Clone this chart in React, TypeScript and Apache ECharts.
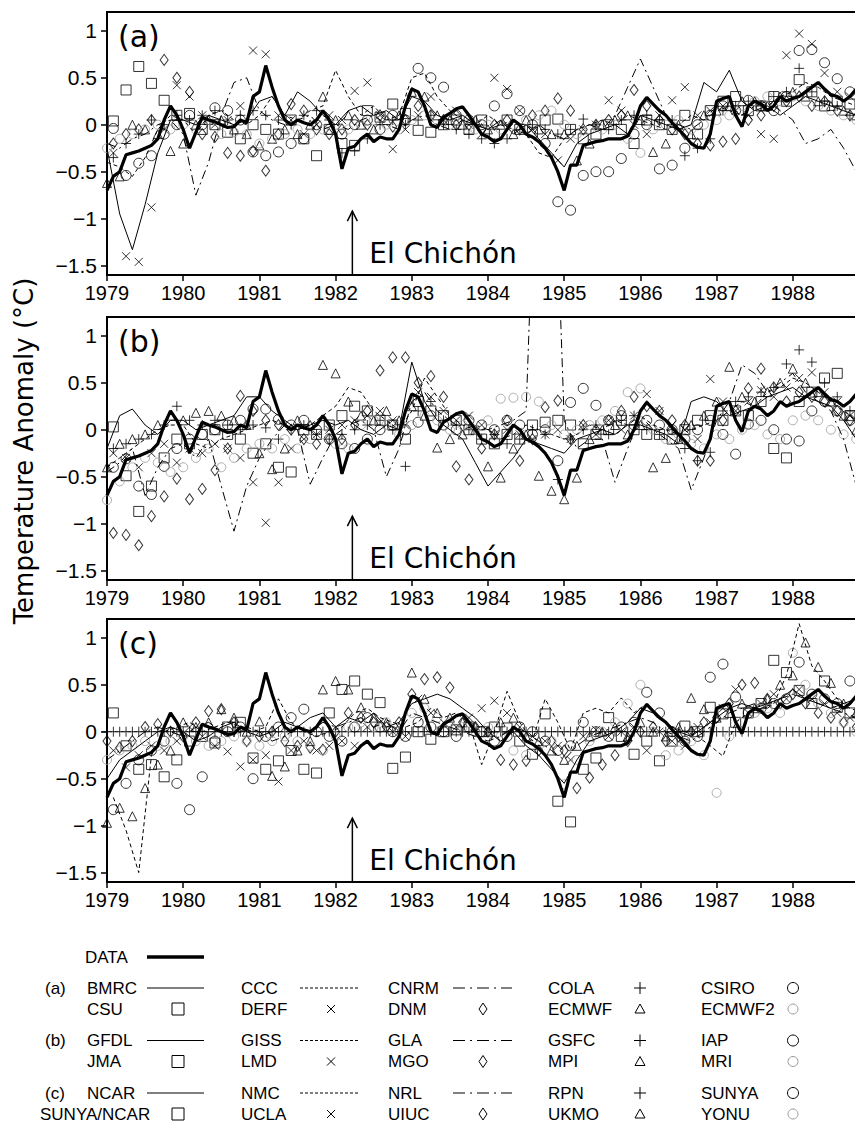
import React, { useEffect, useRef } from "react";
import * as echarts from "echarts";

// ---------------- DATA ----------------
const START_YEAR = 1979;
const yearTicks = [1979, 1980, 1981, 1982, 1983, 1984, 1985, 1986, 1987, 1988];
const yTicks = [-1.5, -1, -0.5, 0, 0.5, 1];
const panelLabels = ["(a)", "(b)", "(c)"];
const eruption = { year: 1982.22, tip: -0.92, labelY: -1.37, label: "El Chichón" };

// observed (DATA), monthly from Jan 1979
const obsData = [
  -0.70, -0.55, -0.50, -0.32, -0.30, -0.28, -0.25, -0.22, -0.15, 0.05, 0.20, 0.10,
  -0.05, -0.25, -0.08, 0.08, 0.05, 0.03, 0.00, -0.03, -0.02, 0.05, 0.02, 0.30,
  0.35, 0.63, 0.40, 0.20, 0.05, 0.00, 0.05, 0.02, 0.00, 0.05, 0.15, 0.05,
  -0.10, -0.47, -0.25, -0.23, -0.15, -0.10, -0.18, -0.13, -0.15, -0.15, -0.05, 0.20,
  0.38, 0.35, 0.20, 0.00, -0.03, 0.08, 0.12, 0.17, 0.19, 0.10, 0.00, -0.10,
  -0.13, -0.18, -0.15, -0.05, 0.05, 0.00, -0.10, -0.13, -0.18, -0.25, -0.35, -0.50,
  -0.70, -0.43, -0.43, -0.22, -0.20, -0.18, -0.17, -0.15, -0.15, -0.15, -0.12, 0.00,
  0.20, 0.29, 0.22, 0.15, 0.10, 0.02, -0.05, -0.12, -0.20, -0.24, -0.25, -0.10,
  0.25, 0.28, 0.30, 0.10, -0.02, 0.20, 0.25, 0.22, 0.15, 0.20, 0.30, 0.25,
  0.28, 0.30, 0.35, 0.40, 0.45, 0.38, 0.32, 0.30, 0.25, 0.30, 0.38, 0.42,
];

// ---- panel (a), bimonthly ----
const aBMRC = [
  -0.25, -0.95, -1.33, -0.85, -0.30, 0.05, 0.05, 0.00, 0.10, 0.05, 0.00, 0.05,
  0.25, 0.30, 0.10, 0.35, 0.25, 0.10, 0.00, 0.15, 0.20, 0.10, 0.15, 0.05,
  0.30, 0.25, 0.10, 0.05, 0.10, 0.00, -0.05, 0.05, -0.10, 0.00, -0.15, -0.30,
  -0.45, -0.20, -0.10, -0.05, 0.00, -0.10, 0.10, 0.05, 0.00, -0.05, 0.00, 0.45,
  0.35, 0.58, 0.25, 0.15, 0.20, 0.10, 0.20, 0.30, 0.25, 0.20, 0.15, 0.10,
];
const aCCC = [
  -0.40, -0.45, -0.55, -0.35, -0.05, 0.10, 0.05, -0.10, 0.10, 0.15, 0.05, 0.00,
  0.10, 0.30, 0.10, 0.05, 0.15, 0.20, 0.58, 0.30, 0.10, 0.20, 0.05, 0.10,
  0.50, 0.55, 0.30, 0.15, 0.05, 0.00, 0.10, 0.00, -0.05, -0.10, -0.30, -0.35,
  -0.15, -0.05, 0.00, 0.05, 0.00, 0.10, 0.05, 0.00, -0.05, 0.00, 0.10, 0.05,
  0.20, 0.15, 0.10, 0.25, 0.20, 0.30, 0.35, 0.45, 0.40, 0.30, 0.25, 0.20,
];
const aCNRM = [
  -0.20, -0.25, -0.15, -0.10, 0.00, 0.05, -0.10, -0.75, -0.40, 0.10, 0.45, 0.50,
  0.15, 0.05, 0.00, 0.05, 0.10, -0.05, 0.00, -0.05, 0.05, 0.10, 0.00, -0.05,
  0.05, 0.10, 0.00, -0.05, 0.05, 0.00, -0.05, 0.00, 0.05, -0.10, 0.00, -0.10,
  -0.15, -0.05, 0.00, -0.05, 0.10, 0.40, 0.70, 0.40, 0.10, 0.00, -0.05, 0.05,
  0.15, 0.20, 0.10, 0.20, 0.25, 0.15, 0.05, -0.20, -0.15, -0.05, -0.25, -0.50,
];
const aCOLA = [
  -0.35, -0.20, -0.10, 0.05, 0.00, 0.10, 0.05, 0.10, 0.15, 0.05, 0.10, 0.15,
  0.10, 0.05, 0.00, 0.10, 0.15, 0.05, -0.30, -0.28, -0.15, 0.00, 0.05, 0.00,
  0.05, 0.10, 0.00, -0.05, -0.10, -0.15, -0.20, -0.15, -0.05, 0.00, -0.05, -0.10,
  -0.05, 0.06, 0.00, -0.05, 0.05, 0.10, 0.10, 0.05, 0.05, -0.33, -0.25, -0.15,
  0.15, 0.20, 0.25, 0.20, 0.30, 0.35, 0.60, 0.35, 0.25, 0.20, 0.10, -0.10,
];
const aCSIRO = [
  -0.04, -0.54, -0.41, -0.33, -0.10, 0.00, 0.10, 0.00, 0.18, 0.15, 0.05, -0.29,
  -0.33, -0.29, -0.20, -0.15, 0.00, -0.05, -0.10, 0.00, 0.05, -0.05, 0.10, 0.05,
  0.60, 0.50, 0.40, 0.10, 0.05, 0.00, 0.20, 0.33, 0.15, 0.00, -0.20, -0.82,
  -0.91, -0.54, -0.50, -0.50, -0.36, -0.10, 0.00, -0.47, -0.43, -0.25, 0.00, 0.10,
  0.20, 0.15, 0.26, 0.20, 0.15, 0.30, 0.79, 0.80, 0.66, 0.49, 0.35, 0.26,
];
const aCSU = [
  0.04, 0.37, 0.62, 0.44, 0.26, 0.10, 0.12, -0.05, 0.00, -0.08, -0.15, 0.00,
  -0.05, -0.10, 0.05, -0.15, -0.33, -0.05, -0.20, -0.22, 0.15, 0.08, 0.22, 0.12,
  -0.06, -0.08, 0.00, 0.05, -0.05, 0.05, -0.10, 0.05, -0.05, -0.08, 0.05, 0.06,
  -0.05, -0.15, -0.10, 0.00, -0.05, -0.20, 0.05, 0.00, -0.05, 0.10, -0.10, 0.15,
  0.25, 0.30, 0.15, 0.20, 0.30, 0.25, 0.48, 0.35, 0.20, 0.25, 0.22, 0.18,
];
const aDERF = [
  -0.30, -1.40, -1.46, -0.88, -0.05, 0.42, 0.30, 0.10, 0.00, 0.05, 0.20, 0.79,
  0.75, 0.10, 0.05, -0.10, 0.00, 0.10, 0.05, 0.36, 0.45, 0.10, -0.26, -0.05,
  0.10, 0.30, 0.05, 0.15, 0.00, -0.10, 0.50, 0.38, 0.15, -0.05, -0.10, -0.38,
  -0.15, -0.05, 0.00, 0.26, 0.15, 0.00, -0.10, 0.10, 0.26, 0.40, 0.10, 0.15,
  0.20, 0.15, 0.10, -0.10, -0.15, 0.74, 0.97, 0.86, 0.55, 0.35, 0.30, 0.15,
];
const aDNM = [
  -0.20, -0.10, -0.05, 0.05, 0.69, 0.50, 0.35, -0.10, -0.13, -0.30, -0.33, -0.28,
  -0.49, -0.10, 0.22, 0.15, -0.05, -0.10, -0.05, 0.05, 0.00, 0.10, -0.02, 0.05,
  0.20, 0.10, 0.05, 0.00, 0.00, -0.05, 0.00, 0.05, -0.05, 0.10, 0.15, 0.28,
  0.15, -0.05, 0.00, 0.05, 0.10, 0.37, 0.20, 0.05, -0.05, -0.10, -0.20, -0.22,
  -0.18, -0.15, 0.05, 0.10, 0.20, 0.25, 0.30, 0.20, 0.25, 0.15, 0.10, 0.05,
];
const aECMWF = [
  -0.62, -0.55, 0.00, -0.05, -0.10, -0.28, -0.20, 0.00, 0.05, 0.05, -0.05, -0.10,
  -0.22, -0.15, -0.05, -0.10, 0.00, 0.30, 0.05, 0.10, 0.00, -0.05, 0.05, 0.10,
  0.35, 0.30, 0.10, 0.05, 0.00, 0.05, -0.05, 0.00, -0.10, 0.05, -0.05, -0.10,
  -0.10, -0.38, -0.20, 0.00, 0.05, 0.10, 0.05, -0.29, -0.20, 0.00, -0.10, 0.10,
  0.15, 0.20, 0.25, 0.25, 0.20, 0.30, 0.35, 0.30, 0.25, 0.20, 0.15, 0.10,
];
const aECMWF2 = [
  -0.25, -0.15, -0.10, -0.05, 0.00, -0.05, 0.00, -0.05, 0.05, -0.10, -0.08, -0.10,
  -0.20, -0.15, -0.10, -0.05, -0.10, -0.05, 0.00, -0.05, 0.00, 0.05, 0.00, -0.05,
  0.05, 0.10, 0.05, 0.00, 0.05, -0.05, 0.00, -0.05, 0.00, 0.05, 0.10, 0.15,
  0.00, -0.10, -0.05, -0.05, 0.00, -0.15, -0.30, -0.05, 0.00, 0.05, -0.05, 0.00,
  0.05, 0.10, 0.20, 0.25, 0.30, 0.25, 0.30, 0.25, 0.20, 0.15, 0.10, 0.05,
];

// ---- panel (b), bimonthly ----
const bGFDL = [
  -0.20, 0.15, 0.22, 0.05, -0.05, 0.10, 0.10, 0.00, 0.05, 0.10, 0.15, 0.35,
  0.35, 0.20, 0.10, 0.00, 0.05, 0.10, 0.05, 0.10, 0.00, -0.05, 0.05, 0.00,
  0.72, 0.30, 0.10, 0.00, -0.10, -0.35, -0.60, -0.45, -0.30, -0.10, -0.15, -0.20,
  -0.25, -0.10, -0.05, 0.00, -0.05, 0.05, 0.05, 0.00, -0.05, -0.15, 0.30, 0.35,
  0.30, 0.15, 0.20, 0.25, 0.35, 0.40, 0.45, 0.35, 0.30, 0.25, 0.10, -0.10,
];
const bGISS = [
  -0.40, -0.30, -0.20, -0.10, 0.00, 0.05, 0.05, -0.15, -0.20, -0.10, -0.05, 0.00,
  0.05, 0.10, 0.05, 0.00, 0.05, 0.15, 0.25, 0.45, 0.40, 0.20, 0.10, 0.00,
  0.20, 0.55, 0.35, 0.15, 0.05, 0.00, 0.00, -0.10, -0.05, 0.05, 0.00, -0.05,
  -0.10, -0.05, 0.05, 0.00, 0.10, 0.05, 0.15, 0.05, 0.00, -0.05, 0.00, 0.05,
  0.10, 0.20, 0.30, 0.25, 0.40, 0.45, 0.55, 0.50, 0.40, 0.30, 0.20, 0.10,
];
const bGLA = [
  -0.45, -0.35, -0.20, -0.70, -0.40, -0.20, -0.15, -0.30, -0.10, -0.60, -1.08, -0.60,
  -0.30, -0.10, 0.05, 0.00, -0.58, -0.30, -0.05, 0.05, 0.10, 0.00, -0.50, -0.20,
  0.30, 0.40, 0.20, 0.10, 0.00, 0.05, 0.00, 0.05, 0.10, 0.20, 4.00, 4.00,
  0.10, -0.20, -0.10, -0.10, -0.56, -0.20, 0.15, 0.00, -0.10, -0.20, -0.64, -0.30,
  0.10, 0.30, 0.69, 0.60, 0.40, 0.50, 0.60, 0.40, 0.30, 0.20, -0.10, -0.60,
];
const bGSFC = [
  -0.20, -0.15, -0.10, -0.05, 0.05, 0.25, 0.10, 0.05, 0.10, 0.05, 0.00, 0.05,
  0.02, -0.10, 0.00, 0.05, -0.05, -0.10, -0.05, 0.00, 0.05, 0.10, 0.00, -0.39,
  0.20, 0.30, 0.10, 0.05, 0.00, -0.10, -0.05, -0.15, -0.10, 0.00, -0.05, -0.53,
  -0.10, 0.00, 0.05, -0.05, 0.10, 0.15, 0.00, -0.05, 0.00, -0.20, -0.33, -0.24,
  0.20, 0.30, 0.35, 0.40, 0.45, 0.70, 0.85, 0.72, 0.50, 0.35, 0.20, -0.10,
];
const bIAP = [
  -0.40, -0.31, -0.60, -0.69, -0.39, -0.20, -0.10, -0.05, 0.00, 0.05, 0.10, 0.22,
  0.22, 0.11, 0.05, 0.10, 0.00, -0.10, -0.15, -0.20, -0.10, 0.00, 0.05, 0.00,
  0.08, 0.15, 0.05, 0.00, 0.10, 0.05, 0.00, 0.10, 0.05, -0.05, 0.00, -0.33,
  0.29, 0.44, 0.26, 0.10, 0.15, 0.05, 0.10, 0.05, 0.00, -0.10, 0.00, 0.10,
  -0.05, -0.26, 0.06, 0.10, 0.00, -0.10, -0.12, 0.20, 0.30, 0.20, 0.10, 0.00,
];
const bJMA = [
  0.03, -0.49, -0.87, -0.60, -0.30, -0.10, -0.15, -0.05, 0.00, -0.05, -0.10, -0.25,
  -0.15, -0.40, -0.45, 0.00, -0.05, 0.05, 0.15, 0.25, 0.20, 0.10, 0.05, -0.10,
  0.30, 0.20, 0.15, 0.10, 0.00, -0.10, -0.15, -0.05, -0.10, 0.05, 0.08, 0.10,
  0.05, -0.15, -0.05, 0.00, 0.10, 0.00, -0.05, -0.05, -0.10, 0.00, 0.10, 0.15,
  0.10, 0.20, 0.15, 0.30, -0.20, -0.30, 0.30, 0.40, 0.55, 0.60, 0.15, -0.10,
];
const bLMD = [
  -0.25, -0.30, -0.40, -0.25, -0.15, -0.35, -0.20, -0.25, -0.15, -0.20, -0.30, -0.56,
  -0.99, -0.56, -0.20, -0.10, -0.05, 0.00, 0.05, 0.10, 0.15, 0.20, 0.10, 0.05,
  0.40, 0.35, 0.20, 0.10, 0.15, 0.05, -0.05, 0.00, -0.05, -0.10, -0.05, 0.00,
  -0.10, 0.05, -0.05, 0.10, 0.00, 0.15, 0.38, 0.20, 0.05, 0.00, -0.10, 0.54,
  0.30, 0.20, 0.30, 0.42, 0.35, 0.45, 0.55, 0.61, 0.40, 0.30, 0.15, 0.05,
];
const bMGO = [
  -1.10, -1.12, -1.23, -0.92, -0.71, -0.52, -0.74, -0.63, -0.43, -0.20, 0.36, 0.20,
  0.10, 0.05, 0.00, -0.10, -0.15, -0.10, -0.10, 0.05, 0.20, 0.63, 0.77, 0.77,
  0.50, 0.57, 0.35, -0.39, -0.53, -0.20, -0.05, 0.10, -0.33, -0.10, 0.24, 0.31,
  -0.10, 0.05, 0.00, 0.10, 0.20, 0.35, 0.25, 0.20, 0.10, 0.05, -0.33, -0.33,
  0.10, 0.20, 0.44, 0.65, 0.45, 0.30, 0.40, 0.35, 0.30, 0.20, 0.10, 0.00,
];
const bMPI = [
  -0.40, -0.15, -0.10, -0.05, 0.05, 0.15, 0.10, 0.18, 0.20, 0.15, 0.10, 0.05,
  -0.25, -0.42, -0.20, 0.10, 0.05, 0.69, 0.60, 0.30, 0.15, 0.10, 0.20, 0.10,
  0.25, 0.15, -0.19, -0.10, -0.05, 0.00, -0.39, -0.51, -0.20, -0.05, -0.49, -0.65,
  -0.74, -0.51, -0.10, 0.00, 0.05, -0.05, 0.05, -0.40, -0.30, -0.10, 0.05, 0.15,
  0.30, 0.67, 0.35, 0.30, 0.40, 0.50, 0.65, 0.50, 0.40, 0.30, 0.15, 0.00,
];
const bMRI = [
  -0.75, -0.55, -0.40, -0.30, -0.35, -0.45, -0.40, -0.30, -0.20, -0.40, -0.30, -0.20,
  -0.15, -0.20, -0.10, -0.20, -0.10, -0.05, -0.15, -0.20, 0.05, 0.10, 0.05, -0.05,
  0.05, 0.15, 0.10, 0.00, 0.05, 0.00, 0.10, 0.33, 0.34, 0.35, 0.30, 0.05,
  -0.05, 0.00, 0.05, 0.10, 0.20, 0.40, 0.44, 0.00, -0.10, -0.05, -0.15, -0.20,
  -0.05, -0.10, 0.00, 0.05, -0.05, -0.10, 0.10, 0.15, 0.10, 0.00, -0.05, -0.10,
];

// ---- panel (c), bimonthly (RPN monthly) ----
const cNCAR = [
  -0.50, -0.30, -0.20, -0.10, 0.00, 0.05, 0.00, -0.10, -0.05, 0.05, 0.10, 0.00,
  -0.05, 0.00, 0.10, 0.05, 0.15, 0.20, 0.05, 0.15, 0.10, 0.20, 0.05, 0.10,
  0.30, 0.35, 0.40, 0.35, 0.25, 0.15, 0.00, -0.10, 0.00, -0.15, -0.25, -0.40,
  -0.55, -0.30, -0.10, -0.05, 0.00, 0.10, 0.25, 0.20, 0.10, 0.00, -0.05, 0.05,
  0.15, 0.25, 0.30, 0.25, 0.30, 0.35, 0.45, 0.35, 0.30, 0.25, 0.30, 0.35,
];
const cNMC = [
  -0.70, -1.05, -1.50, -0.25, 0.00, 0.05, 0.10, 0.00, 0.05, 0.10, 0.05, 0.00,
  0.05, 0.35, 0.10, 0.00, -0.05, 0.00, 0.05, 0.20, 0.25, 0.15, 0.10, 0.05,
  0.10, 0.25, 0.15, 0.20, 0.10, -0.35, 0.00, 0.43, 0.10, -0.10, 0.35, 0.10,
  -0.20, 0.20, 0.25, 0.20, 0.36, 0.20, 0.30, 0.15, 0.05, 0.00, -0.05, -0.15,
  -0.26, 0.10, 0.20, 0.25, 0.30, 0.60, 1.15, 0.70, 0.54, 0.35, 0.25, 0.20,
];
const cNRL = [
  -0.30, -0.20, -0.10, 0.00, 0.05, 0.00, -0.05, 0.05, 0.10, 0.00, -0.05, 0.05,
  0.00, -0.10, -0.05, 0.05, 0.00, 0.10, 0.05, 0.10, 0.15, 0.05, 0.10, 0.00,
  0.20, 0.15, 0.10, 0.05, 0.00, -0.05, -0.10, -0.05, 0.05, 0.00, -0.10, -0.20,
  -0.30, -0.15, -0.05, 0.00, 0.05, 0.10, 0.15, 0.10, 0.00, -0.05, -0.10, 0.00,
  0.10, 0.20, 0.25, 0.30, 0.25, 0.35, 0.40, 0.35, 0.30, 0.25, 0.20, 0.15,
];
const cRPN = [
  0, 0, 0, 0, 0, 0, 0, 0, 0, 0, 0, 0, 0, 0, 0, 0, 0, 0, 0, 0, 0, 0, 0, 0,
  0, 0, 0, 0, 0, 0, 0, 0, 0, 0, 0, 0, 0, 0, 0, 0, 0, 0, 0, 0, 0, 0, 0, 0,
  0, 0, 0, 0, 0, 0, 0, 0, 0, 0, 0, 0, 0, 0, 0, 0, 0, 0, 0, 0, 0, 0, 0, 0,
  0, 0, 0, 0, 0, 0, 0, 0, 0, 0, 0, 0, 0, 0, 0, 0, 0, 0, 0, 0, 0, 0, 0, 0,
  0, 0, 0, 0, 0, 0, 0, 0, 0, 0, 0, 0, 0, 0, 0, 0, 0, 0, 0, 0, 0, 0, 0, 0,
];
const cSUNYA = [
  -0.83, -0.55, -0.30, -0.20, -0.10, -0.55, -0.83, -0.48, -0.10, 0.00, 0.05, -0.50,
  -0.05, 0.05, 0.15, 0.24, 0.00, -0.05, -0.10, 0.05, 0.15, 0.05, 0.00, -0.05,
  0.10, 0.05, 0.00, -0.05, 0.05, 0.00, -0.10, -0.05, 0.05, 0.00, -0.10, -0.20,
  -0.15, 0.10, 0.00, -0.05, 0.05, 0.10, 0.42, 0.20, 0.00, -0.10, -0.05, 0.58,
  0.72, 0.37, 0.20, 0.25, 0.30, 0.35, 0.74, 0.40, 0.35, 0.30, 0.54, 0.40,
];
const cSUNYANCAR = [
  0.20, -0.15, -0.40, -0.35, -0.48, -0.30, -0.10, -0.05, -0.12, 0.05, 0.10, -0.28,
  -0.40, -0.31, -0.20, -0.40, -0.44, 0.20, 0.45, 0.54, 0.40, 0.31, -0.39, -0.27,
  0.00, -0.08, 0.00, 0.02, 0.05, 0.00, 0.05, 0.04, -0.10, -0.24, 0.19, -0.74,
  -0.96, -0.40, -0.28, 0.15, -0.05, -0.24, -0.10, -0.31, -0.10, 0.06, 0.00, 0.26,
  0.19, 0.10, 0.20, 0.30, 0.76, 0.63, 0.44, 0.30, 0.54, 0.26, 0.20, 0.30,
];
const cUCLA = [
  -0.20, -0.38, -0.25, -0.15, -0.20, -0.10, 0.05, -0.05, -0.15, -0.21, -0.37, -0.30,
  -0.25, -0.53, -0.20, -0.10, -0.20, -0.15, -0.10, -0.15, 0.05, 0.10, 0.00, -0.05,
  0.35, 0.20, 0.10, 0.05, 0.15, 0.25, 0.33, 0.20, 0.05, -0.05, -0.10, -0.15,
  -0.30, -0.05, 0.02, -0.05, 0.00, 0.05, -0.20, 0.00, -0.10, -0.15, 0.05, 0.10,
  0.25, 0.45, 0.20, 0.30, 0.40, 0.35, 0.45, 0.35, 0.30, 0.20, 0.15, 0.05,
];
const cUIUC = [
  -0.10, -0.17, -0.10, 0.05, 0.08, 0.00, -0.05, 0.10, 0.22, 0.24, 0.10, -0.10,
  -0.05, 0.00, -0.10, -0.15, -0.17, -0.19, 0.00, 0.20, 0.15, 0.10, 0.05, 0.10,
  0.40, 0.56, 0.58, 0.47, 0.10, 0.05, 0.00, -0.30, -0.35, -0.31, -0.20, -0.10,
  -0.20, -0.60, -0.49, -0.35, -0.25, -0.10, 0.00, 0.05, -0.10, -0.05, 0.00, 0.10,
  0.15, 0.30, 0.50, 0.52, 0.35, 0.30, 0.40, 0.30, 0.20, 0.15, 0.10, 0.05,
];
const cUKMO = [
  -0.97, -0.81, -0.90, -0.60, -0.35, -0.20, 0.10, 0.05, 0.10, 0.24, 0.15, 0.00,
  0.11, -0.47, -0.37, -0.20, -0.10, 0.45, 0.54, 0.45, 0.26, 0.15, 0.10, 0.05,
  0.63, 0.35, 0.20, 0.15, 0.10, 0.05, 0.00, 0.10, 0.15, -0.05, -0.10, -0.20,
  -0.30, -0.15, -0.05, 0.00, 0.05, -0.05, 0.10, 0.00, -0.05, 0.05, 0.36, 0.24,
  0.15, 0.20, 0.30, 0.25, 0.35, 0.50, 0.60, 0.95, 0.69, 0.52, 0.30, 0.20,
];
const cYONU = [
  -0.30, -0.20, -0.15, -0.10, -0.15, -0.10, -0.05, -0.10, -0.15, -0.10, -0.05, -0.10,
  -0.15, -0.10, -0.05, -0.10, -0.15, -0.20, -0.05, 0.05, 0.10, 0.05, 0.10, 0.00,
  0.20, 0.25, 0.15, 0.10, 0.05, 0.00, 0.05, -0.05, -0.20, -0.25, -0.15, -0.10,
  -0.56, -0.30, -0.10, 0.00, 0.10, 0.30, 0.50, 0.00, -0.25, -0.20, -0.10, -0.25,
  -0.65, -0.05, 0.10, 0.20, 0.25, 0.20, 0.84, 0.50, 0.30, 0.20, 0.10, 0.00,
];

// ---------------- SPECS ----------------
type Kind = "solid" | "dashed" | "dashdot" | "plus" | "circle" | "square" | "cross" | "diamond" | "triangle" | "grey";
interface Spec { name: string; kind: Kind; values: number[]; step: number; offset: number }

// legend order: row 1 = first five, row 2 = last five
const panels: Spec[][] = [
  [
    { name: "BMRC", kind: "solid", values: aBMRC, step: 2, offset: 0 },
    { name: "CCC", kind: "dashed", values: aCCC, step: 2, offset: 0 },
    { name: "CNRM", kind: "dashdot", values: aCNRM, step: 2, offset: 0 },
    { name: "COLA", kind: "plus", values: aCOLA, step: 2, offset: 1 },
    { name: "CSIRO", kind: "circle", values: aCSIRO, step: 2, offset: 1 },
    { name: "CSU", kind: "square", values: aCSU, step: 2, offset: 1 },
    { name: "DERF", kind: "cross", values: aDERF, step: 2, offset: 1 },
    { name: "DNM", kind: "diamond", values: aDNM, step: 2, offset: 1 },
    { name: "ECMWF", kind: "triangle", values: aECMWF, step: 2, offset: 0 },
    { name: "ECMWF2", kind: "grey", values: aECMWF2, step: 2, offset: 0 },
  ],
  [
    { name: "GFDL", kind: "solid", values: bGFDL, step: 2, offset: 0 },
    { name: "GISS", kind: "dashed", values: bGISS, step: 2, offset: 0 },
    { name: "GLA", kind: "dashdot", values: bGLA, step: 2, offset: 0 },
    { name: "GSFC", kind: "plus", values: bGSFC, step: 2, offset: 1 },
    { name: "IAP", kind: "circle", values: bIAP, step: 2, offset: 1 },
    { name: "JMA", kind: "square", values: bJMA, step: 2, offset: 1 },
    { name: "LMD", kind: "cross", values: bLMD, step: 2, offset: 1 },
    { name: "MGO", kind: "diamond", values: bMGO, step: 2, offset: 1 },
    { name: "MPI", kind: "triangle", values: bMPI, step: 2, offset: 0 },
    { name: "MRI", kind: "grey", values: bMRI, step: 2, offset: 0 },
  ],
  [
    { name: "NCAR", kind: "solid", values: cNCAR, step: 2, offset: 0 },
    { name: "NMC", kind: "dashed", values: cNMC, step: 2, offset: 1 },
    { name: "NRL", kind: "dashdot", values: cNRL, step: 2, offset: 0 },
    { name: "RPN", kind: "plus", values: cRPN, step: 1, offset: 0 },
    { name: "SUNYA", kind: "circle", values: cSUNYA, step: 2, offset: 1 },
    { name: "SUNYA/NCAR", kind: "square", values: cSUNYANCAR, step: 2, offset: 1 },
    { name: "UCLA", kind: "cross", values: cUCLA, step: 2, offset: 1 },
    { name: "UIUC", kind: "diamond", values: cUIUC, step: 2, offset: 0 },
    { name: "UKMO", kind: "triangle", values: cUKMO, step: 2, offset: 0 },
    { name: "YONU", kind: "grey", values: cYONU, step: 2, offset: 0 },
  ],
];

// ---------------- STYLE ----------------
const SANS = "'Liberation Sans', Arial, Helvetica, sans-serif";
const DEJAVU = "'DejaVu Sans', 'Liberation Sans', sans-serif";
const GREY = "#9a9a9a";
const DASH: Record<string, any> = { solid: "solid", dashed: [4, 3], dashdot: [9, 4, 2, 4] };
const LEGEND_DASH: Record<string, any> = { dashed: [3, 2], dashdot: [12, 5, 2, 5] };
const SYMBOL: Record<string, { symbol: string; size: any }> = {
  plus: { symbol: "path://M5,0L5,10M0,5L10,5", size: 10 },
  circle: { symbol: "circle", size: 10 },
  square: { symbol: "rect", size: 10 },
  cross: { symbol: "path://M0,0L10,10M10,0L0,10", size: 8 },
  diamond: { symbol: "diamond", size: [8, 11] },
  triangle: { symbol: "triangle", size: 9 },
  grey: { symbol: "circle", size: 9 },
};

const GRID_TOPS = [12, 317, 619];
const GRID_LEFT = 107;
const GRID_W = 762;
const GRID_H = 263;

const timeOf = (monthIndex: number) => START_YEAR + monthIndex / 12;
const pairs = (s: Spec) => s.values.map((v, i) => [timeOf(s.offset + s.step * i), v]);
const minus = (v: number) => (v < 0 ? "\u2212" + String(Math.abs(v)) : String(v));

function legendMarker(kind: Kind, cx: number, cy: number): any[] {
  const st = { stroke: "#000", lineWidth: 1, fill: "none" };
  switch (kind) {
    case "plus":
      return [
        { type: "line", shape: { x1: cx - 6, y1: cy, x2: cx + 6, y2: cy }, style: st },
        { type: "line", shape: { x1: cx, y1: cy - 6, x2: cx, y2: cy + 6 }, style: st },
      ];
    case "cross":
      return [
        { type: "line", shape: { x1: cx - 4, y1: cy - 4, x2: cx + 4, y2: cy + 4 }, style: st },
        { type: "line", shape: { x1: cx - 4, y1: cy + 4, x2: cx + 4, y2: cy - 4 }, style: st },
      ];
    case "circle":
      return [{ type: "circle", shape: { cx, cy, r: 5.5 }, style: st }];
    case "grey":
      return [{ type: "circle", shape: { cx, cy, r: 5 }, style: { ...st, stroke: GREY } }];
    case "square":
      return [{ type: "rect", shape: { x: cx - 6, y: cy - 6, width: 12, height: 12 }, style: st }];
    case "diamond":
      return [{ type: "polygon", shape: { points: [[cx, cy - 6], [cx + 4, cy], [cx, cy + 6], [cx - 4, cy]] }, style: st }];
    case "triangle":
      return [{ type: "polygon", shape: { points: [[cx, cy - 5], [cx + 5, cy + 4], [cx - 5, cy + 4]] }, style: st }];
    default:
      return [];
  }
}

export default function App() {
  const ref = useRef<HTMLDivElement>(null);

  useEffect(() => {
    if (!ref.current) return;
    const chart = echarts.init(ref.current, undefined, { renderer: "svg" });

    const grid = GRID_TOPS.map((top) => ({
      left: GRID_LEFT, top, width: GRID_W, height: GRID_H,
      show: true, borderColor: "#000", borderWidth: 2, backgroundColor: "transparent",
    }));
    const xAxis = GRID_TOPS.map((_, k) => ({
      type: "value", gridIndex: k, min: 1979, max: 1989, interval: 1,
      axisLine: { show: true, onZero: false, lineStyle: { color: "#000", width: 2 } },
      axisTick: { show: true, inside: false, length: 6, customValues: yearTicks, lineStyle: { color: "#000", width: 1.5 } },
      axisLabel: {
        color: "#000", fontSize: 20, fontFamily: SANS, margin: 8,
        customValues: yearTicks,
        formatter: (v: number) => String(Math.round(v)),
      },
      splitLine: { show: false },
    }));
    const yAxis = GRID_TOPS.map((_, k) => ({
      type: "value", gridIndex: k, min: -1.6, max: 1.2,
      axisLine: { show: true, onZero: false, lineStyle: { color: "#000", width: 2 } },
      axisTick: { show: true, inside: false, length: 6, customValues: yTicks, lineStyle: { color: "#000", width: 1.5 } },
      axisLabel: { color: "#000", fontSize: 21, fontFamily: SANS, margin: 10, customValues: yTicks, formatter: minus },
      splitLine: { show: false },
    }));

    const series: any[] = [];
    panels.forEach((specs, k) => {
      specs.forEach((s) => {
        if (s.kind === "solid" || s.kind === "dashed" || s.kind === "dashdot") {
          series.push({
            type: "line", name: s.name, xAxisIndex: k, yAxisIndex: k, data: pairs(s),
            symbol: "none", showSymbol: false, silent: true, clip: true, z: 3,
            lineStyle: { color: "#000", width: 1, type: DASH[s.kind] },
          });
        } else {
          const sym = SYMBOL[s.kind];
          series.push({
            type: "scatter", name: s.name, xAxisIndex: k, yAxisIndex: k, data: pairs(s),
            symbol: sym.symbol, symbolSize: sym.size, silent: true, clip: true, z: 2,
            itemStyle: { color: "rgba(0,0,0,0)", borderColor: s.kind === "grey" ? GREY : "#000", borderWidth: 1 },
          });
        }
      });
      series.push({
        type: "line", name: "DATA", xAxisIndex: k, yAxisIndex: k,
        data: obsData.map((v, i) => [timeOf(i), v]),
        symbol: "none", showSymbol: false, silent: true, clip: true, z: 5,
        lineStyle: { color: "#000", width: 3.2 },
      });
    });

    chart.setOption({
      animation: false,
      backgroundColor: "#fff",
      textStyle: { fontFamily: SANS },
      grid, xAxis, yAxis, series,
    });

    // ----- graphics (annotations + legend) -----
    const els: any[] = [];
    const txt = (x: number, y: number, text: string, size: number, family: string, extra: any = {}) => ({
      type: "text", x, y, z: 20, ...extra,
      style: { text, fontSize: size, fontFamily: family, fill: "#000", verticalAlign: "middle", textVerticalAlign: "middle", align: extra.align || "left", textAlign: extra.align || "left" },
    });

    els.push(txt(24, 451, "Temperature Anomaly (°C)", 26, DEJAVU, { rotation: Math.PI / 2, align: "center" }));

    panelLabels.forEach((lab, k) => {
      const top = chart.convertToPixel({ gridIndex: k } as any, [START_YEAR, 1.2]) as number[];
      els.push(txt(GRID_LEFT + 11, top[1] + 24, lab, 30, DEJAVU));
      const base = chart.convertToPixel({ gridIndex: k } as any, [eruption.year, -1.6]) as number[];
      const tip = chart.convertToPixel({ gridIndex: k } as any, [eruption.year, eruption.tip]) as number[];
      els.push({ type: "line", z: 20, shape: { x1: base[0], y1: base[1], x2: tip[0], y2: tip[1] }, style: { stroke: "#000", lineWidth: 1.5 } });
      els.push({ type: "polyline", z: 20, shape: { points: [[tip[0] - 5, tip[1] + 10], [tip[0], tip[1]], [tip[0] + 5, tip[1] + 10]] }, style: { stroke: "#000", lineWidth: 1.5, fill: "none" } });
      const lp = chart.convertToPixel({ gridIndex: k } as any, [eruption.year, eruption.labelY]) as number[];
      els.push(txt(lp[0] + 17, lp[1], eruption.label, 28, DEJAVU));
    });

    // legend
    const colText = [87, 241, 388, 548, 701];
    const colLine = [[147, 204], [300, 358], [453, 512]];
    const colMark = [178, 331, 483, 640, 793];
    const LF = 17;
    els.push(txt(85, 957, "DATA", LF, SANS));
    els.push({ type: "line", z: 20, shape: { x1: 147, y1: 957, x2: 204, y2: 957 }, style: { stroke: "#000", lineWidth: 3.5 } });
    panels.forEach((specs, k) => {
      const y1 = 988 + k * 52.5;
      els.push(txt(45, y1, panelLabels[k], LF, SANS));
      specs.forEach((s, j) => {
        const row = j < 5 ? 0 : 1;
        const col = j % 5;
        const y = y1 + row * 21;
        const tx = col === 0 && s.name.length > 6 ? 40 : colText[col];
        els.push(txt(tx, y, s.name, LF, SANS));
        if (s.kind === "solid" || s.kind === "dashed" || s.kind === "dashdot") {
          const [x1, x2] = colLine[col];
          els.push({
            type: "line", z: 20, shape: { x1, y1: y, x2, y2: y },
            style: { stroke: "#000", lineWidth: 1, lineDash: s.kind === "solid" ? null : LEGEND_DASH[s.kind] },
          });
        } else {
          legendMarker(s.kind, colMark[col], y).forEach((e) => els.push({ ...e, z: 20 }));
        }
      });
    });

    chart.setOption({ graphic: { elements: els } });

    return () => chart.dispose();
  }, []);

  return (
    <div style={{ position: "fixed", left: 0, top: 0, width: 855, height: 1124, overflow: "hidden", background: "#fff" }}>
      <div ref={ref} style={{ width: 900, height: 1124 }} />
    </div>
  );
}
